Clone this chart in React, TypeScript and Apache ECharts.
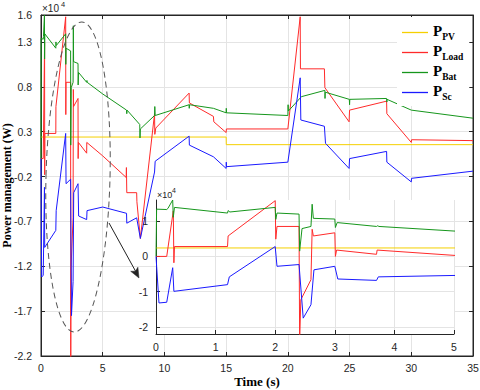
import React, { useEffect, useRef } from 'react';
import * as echarts from 'echarts';

// ---- data (time in s, power in x10^4 W) ----
const pvData: [number, number][] = [
  [0, 0.24], [15.0, 0.24], [15.01, 0.155], [35, 0.155],
];

const loadData: [number, number][] = [
  [0, 0], [0.18, 0], [0.29, 1.29], [0.3, -0.18], [0.31, 0.28], [1.2, 0.28], [1.21, 0.58],
  [2.0, 1.58], [2.01, 0.49], [2.03, 0.85], [2.4, 0.85], [2.41, -2.4], [2.43, -1.23],
  [2.6, -0.66], [2.62, 0.77], [2.64, 0.58], [3.0, 0.67], [3.01, 0.0], [3.03, 0.18],
  [3.7, 0.06], [3.71, 0.18], [5.0, 0.03], [6.9, -0.21], [6.92, -0.1], [6.95, -0.38],
  [7.75, -0.38], [7.77, -0.48], [8.05, -0.89], [9.2, 0.5], [9.22, 0.27], [9.3, 0.34],
  [12.0, 0.73], [12.02, 0.62], [13.97, 0.47], [14.0, 0.41], [15.0, 0.29], [15.02, 0.33],
  [20.0, 0.33], [21.0, 1.58], [21.02, 1.0], [22.96, 1.0], [23.0, 0.79], [24.96, 0.41],
  [25.0, 0.54], [28.0, 0.64], [28.02, 0.5], [30.0, 0.18], [30.02, 0.21], [35, 0.2],
];

const batData: [number, number][] = [
  [0, 0], [0.01, 1.34], [0.18, 1.33], [0.2, 1.36], [0.28, 1.6], [0.29, 1.11], [0.31, 1.39],
  [1.2, 1.23], [1.21, 1.3], [1.24, 1.26], [2.0, 1.39], [2.01, 1.05], [2.03, 1.23],
  [2.4, 1.2], [2.41, 0.15], [2.45, 0.79], [2.6, 0.85], [2.62, 1.48], [2.64, 1.08],
  [3.0, 1.06], [3.01, 0.82], [3.04, 0.96], [3.7, 0.85], [3.72, 0.87], [3.74, 0.85],
  [5.0, 0.72], [6.93, 0.54], [6.95, 0.5], [6.97, 0.54], [8.0, 0.38], [8.02, 0.23],
  [8.05, 0.33], [9.2, 0.48], [9.22, 0.58], [9.25, 0.48], [12.0, 0.6], [12.01, 0.56],
  [12.03, 0.6], [13.97, 0.56], [15.0, 0.51], [15.01, 0.56], [15.03, 0.51], [20.0, 0.48],
  [20.02, 0.6], [20.04, 0.53], [21.1, 0.69], [23.0, 0.76], [23.01, 0.67], [23.03, 0.74],
  [24.98, 0.66], [25.0, 0.6], [25.02, 0.66], [28.0, 0.67], [28.02, 0.63], [28.04, 0.66],
  [30.0, 0.54], [35, 0.45],
];

const scData: [number, number][] = [
  [0, 0], [0.05, -1.32], [0.18, -1.3], [0.28, -0.32], [0.3, -0.99], [1.2, -0.8],
  [1.23, -0.58], [2.0, 0.28], [2.03, -0.28], [2.4, -0.23], [2.47, -1.75], [2.6, -1.37],
  [2.65, -0.38], [3.0, -0.28], [3.05, -0.64], [3.7, -0.68], [3.73, -0.58], [5.0, -0.54],
  [6.93, -0.61], [6.95, -0.72], [7.75, -0.66], [8.05, -0.89], [9.2, -0.15], [9.25, -0.03],
  [12.0, 0.25], [12.02, 0.15], [13.97, 0.02], [15.0, -0.11], [15.01, -0.04], [15.03, -0.09],
  [20.0, -0.04], [21.0, 0.9], [21.05, 0.43], [22.96, 0.36], [23.05, 0.17], [24.96, -0.11],
  [25.0, 0.0], [28.0, 0.08], [28.02, -0.04], [30.0, -0.26], [30.02, -0.22], [35, -0.14],
];

const seriesNames = ['PV', 'Load', 'Bat', 'Sc'];
const seriesColors = ['#F5D000', '#FF2A2A', '#16961C', '#1A1AFF'];
const seriesData = [pvData, loadData, batData, scData];

const mainX = { min: 0, max: 35, interval: 5 };
const mainY = { min: -2.2, max: 1.6, interval: 0.5 };
const insetX = { min: 0, max: 5, interval: 1 };
const insetY = { min: -2.2, max: 1.6 };

const AXIS = '#262626';
const GRID = '#e4e4e4';
const SANS = 'Liberation Sans, Arial, sans-serif';
const SERIF = 'Liberation Serif, Times New Roman, serif';

function buildOption() {
  const mainSeries = seriesNames.map((n, i) => ({
    type: 'line', name: n, data: seriesData[i], xAxisIndex: 0, yAxisIndex: 0,
    symbol: 'none', showSymbol: false, clip: true, z: 2,
    lineStyle: { width: 1, color: seriesColors[i] }, itemStyle: { color: seriesColors[i] },
  }));
  const insetSeries = seriesNames.map((n, i) => ({
    type: 'line', name: n, data: seriesData[i], xAxisIndex: 2, yAxisIndex: 2,
    symbol: 'none', showSymbol: false, clip: true, z: 9,
    lineStyle: { width: 1, color: seriesColors[i] }, itemStyle: { color: seriesColors[i] },
  }));

  const labelStyle = { color: AXIS, fontFamily: SANS, fontSize: 10.5 };

  return {
    animation: false,
    backgroundColor: '#fff',
    grid: [
      { left: 41, top: 15, width: 432, height: 341, show: true, borderColor: AXIS, borderWidth: 1, backgroundColor: 'transparent', z: 0, containLabel: false, outerBoundsMode: 'none' },
      { left: 156, top: 200, width: 298, height: 134, show: true, borderWidth: 0, backgroundColor: '#fff', z: 6, containLabel: false, outerBoundsMode: 'none' },
    ],
    legend: {
      data: seriesNames, orient: 'vertical', left: 397, top: 17,
      icon: 'rect', itemWidth: 26, itemHeight: 1.3, itemGap: 1, backgroundColor: '#fff',
      padding: [6, 6, 4, 5], selectedMode: false,
      formatter: (name: string) => `{p|P}{s|${name}}`,
      textStyle: {
        rich: {
          p: { fontFamily: SERIF, fontWeight: 'bold', fontSize: 15, color: '#000', lineHeight: 19, verticalAlign: 'top' },
          s: { fontFamily: SERIF, fontWeight: 'bold', fontSize: 9.5, color: '#000', lineHeight: 9, verticalAlign: 'bottom' },
        },
      },
    },
    xAxis: [
      {
        type: 'value', gridIndex: 0, ...mainX, position: 'bottom',
        name: 'Time (s)', nameLocation: 'middle', nameGap: 19, nameMoveOverlap: false,
        nameTextStyle: { fontFamily: SERIF, fontWeight: 'bold', fontSize: 13, color: '#000' },
        axisLine: { show: true, onZero: false, lineStyle: { color: AXIS, width: 1 } },
        axisTick: { show: true, inside: true, length: 4, lineStyle: { color: AXIS } },
        axisLabel: { ...labelStyle, margin: 6 },
        splitLine: { show: true, lineStyle: { color: GRID, width: 1 } },
      },
      {
        type: 'value', gridIndex: 0, ...mainX, position: 'top',
        axisLine: { show: true, onZero: false, lineStyle: { color: AXIS, width: 1 } },
        axisTick: { show: true, inside: true, length: 4, lineStyle: { color: AXIS } },
        axisLabel: { show: false }, splitLine: { show: false },
      },
      {
        type: 'value', gridIndex: 1, ...insetX, position: 'bottom', z: 7,
        axisLine: { show: true, onZero: false, lineStyle: { color: AXIS, width: 1 } },
        axisTick: { show: true, inside: true, length: 4, lineStyle: { color: AXIS } },
        axisLabel: { ...labelStyle, margin: 7 },
        splitLine: { show: true, lineStyle: { color: GRID, width: 1 } },
      },
    ],
    yAxis: [
      {
        type: 'value', gridIndex: 0, ...mainY, position: 'left',
        name: 'Power management (W)', nameLocation: 'middle', nameGap: 28, nameMoveOverlap: false,
        nameTextStyle: { fontFamily: SERIF, fontWeight: 'bold', fontSize: 12, color: '#000' },
        axisLine: { show: true, onZero: false, lineStyle: { color: AXIS, width: 1 } },
        axisTick: { show: true, inside: true, length: 4, lineStyle: { color: AXIS } },
        axisLabel: { ...labelStyle, margin: 9, formatter: (v: number) => v.toFixed(1) },
        splitLine: { show: true, lineStyle: { color: GRID, width: 1 } },
      },
      {
        type: 'value', gridIndex: 0, ...mainY, position: 'right',
        axisLine: { show: true, onZero: false, lineStyle: { color: AXIS, width: 1 } },
        axisTick: { show: true, inside: true, length: 4, lineStyle: { color: AXIS } },
        axisLabel: { show: false }, splitLine: { show: false },
      },
      {
        type: 'value', gridIndex: 1, ...insetY, splitNumber: 4, position: 'left', z: 7,
        axisLine: { show: true, onZero: false, lineStyle: { color: AXIS, width: 1 } },
        axisTick: { show: true, inside: true, length: 4, lineStyle: { color: AXIS } },
        axisLabel: { ...labelStyle, margin: 8, showMinLabel: false, showMaxLabel: false },
        splitLine: { show: true, showMinLine: false, showMaxLine: false, lineStyle: { color: GRID, width: 1 } },
      },
    ],
    graphic: [
      { type: 'text', x: 42, y: 3, z: 20, style: { text: '×10', fontSize: 10, fontFamily: SANS, fill: AXIS } },
      { type: 'text', x: 61, y: 0, z: 20, style: { text: '4', fontSize: 7.5, fontFamily: SANS, fill: AXIS } },
      { type: 'text', x: 157, y: 190, z: 20, style: { text: '×10', fontSize: 9, fontFamily: SANS, fill: AXIS } },
      { type: 'text', x: 172, y: 187, z: 20, style: { text: '4', fontSize: 7, fontFamily: SANS, fill: AXIS } },
      {
        type: 'ellipse', x: 78, y: 177, rotation: -0.025, z: 20,
        shape: { cx: 0, cy: 0, rx: 32, ry: 155 },
        style: { fill: 'none', stroke: '#555', lineWidth: 1, lineDash: [6, 4] },
      },
      { type: 'line', z: 20, shape: { x1: 109, y1: 223, x2: 136, y2: 272 }, style: { stroke: '#222', lineWidth: 1 } },
      {
        type: 'polygon', z: 20,
        shape: { points: [[139, 278], [130.7, 271.3], [135.4, 271.2], [137.9, 267.2]] },
        style: { fill: '#222', stroke: '#222', lineWidth: 0.5 },
      },
    ],
    series: [...mainSeries, ...insetSeries],
  };
}

const App = () => {
  const ref = useRef<HTMLDivElement>(null);
  useEffect(() => {
    if (!ref.current) return;
    const chart = echarts.init(ref.current, null, { renderer: 'svg' });
    chart.setOption(buildOption() as any);
    return () => chart.dispose();
  }, []);
  return (
    <div
      ref={ref}
      style={{ position: 'fixed', left: 0, top: 0, width: 480, height: 390, background: '#fff' }}
    />
  );
};

export default App;
